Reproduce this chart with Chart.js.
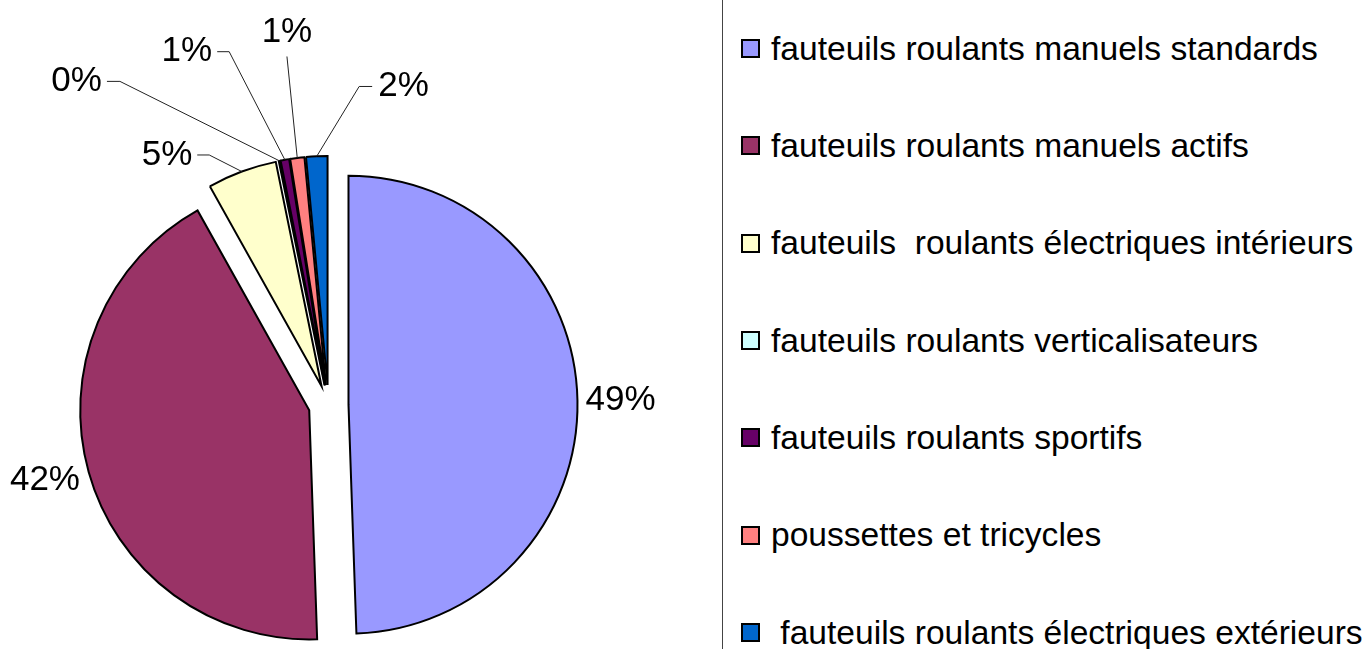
<!DOCTYPE html>
<html>
<head>
<meta charset="utf-8">
<script src="https://cdn.jsdelivr.net/npm/chart.js@4.4.1/dist/chart.umd.min.js"></script>
<style>
  body { margin: 0; background: #fff; width: 1370px; height: 649px; overflow: hidden; position: relative; font-family: "Liberation Sans", Arial, sans-serif; }
  #chartBox { position: absolute; left: 0; top: 0; width: 720px; height: 649px; }
  #legend { position: absolute; left: 722px; top: 0; width: 647px; height: 649px; border-left: 1px solid #444; }
  .item { height: 97.33px; display: flex; align-items: center; white-space: pre; font-size: 33.6px; color: #000; }
  .swatch { width: 15px; height: 15px; border: 2px solid #000; margin-left: 18px; margin-right: 11px; flex: none; }
</style>
</head>
<body>
<div id="chartBox"><canvas id="myChart" width="720" height="649"></canvas></div>
<div id="legend"></div>
<script>
// Data (percent of total)
const categories = [
    "fauteuils roulants manuels standards",
    "fauteuils roulants manuels actifs",
    "fauteuils  roulants électriques intérieurs",
    "fauteuils roulants verticalisateurs",
    "fauteuils roulants sportifs",
    "poussettes et tricycles",
    " fauteuils roulants électriques extérieurs"
];
const values = [49.4, 42.4, 4.9, 0.1, 0.6, 1.0, 1.5];
const colors = ["#9999FF", "#993366", "#FFFFCC", "#CCFFFF", "#660066", "#FF8080", "#0066CC"];

const pieRadius = 229;
const sliceShift = 20; // how far each slice is pulled out

// Build the legend on the right
const legendBox = document.getElementById('legend');
categories.forEach((name, i) => {
    const row = document.createElement('div');
    row.className = 'item';
    row.innerHTML = `<span class="swatch" style="background:${colors[i]}"></span><span></span>`;
    row.lastChild.textContent = name;
    legendBox.appendChild(row);
});

// Chart.js grows exploded arcs and trims their angle a bit;
// undo both so every slice keeps one radius and its full angle
const explodeFix = {
    id: 'explodeFix',
    afterDatasetUpdate(chart, args) {
        args.meta.data.forEach(arc => {
            const fix = 1 - Math.sin(Math.min(Math.PI, arc.circumference));
            const grow = sliceShift * fix;
            arc.outerRadius = pieRadius - grow;
            const trim = grow / Math.PI / pieRadius / 2;
            arc.startAngle -= trim;
            arc.endAngle += trim;
        });
    }
};

// Percent labels, with leader lines for the thin slices
const pieLabels = {
    id: 'pieLabels',
    afterDatasetsDraw(chart, args, opts) {
        const ctx = chart.ctx;
        const meta = chart.getDatasetMeta(0);
        const total = values.reduce((a, b) => a + b, 0);
        ctx.save();
        ctx.font = opts.font;
        ctx.fillStyle = '#000';
        ctx.strokeStyle = opts.lineColor;
        ctx.lineWidth = 1;
        meta.data.forEach((arc, i) => {
            const cx = arc.x, cy = arc.y;
            const mid = (arc.startAngle + arc.endAngle) / 2;
            const edge = sliceShift + pieRadius;
            const text = Math.round(values[i] / total * 100) + '%';
            const place = opts.placements[i];

            if (!place.elbow) {
                const r = edge + place.gap;
                ctx.textAlign = Math.cos(mid) >= 0 ? 'left' : 'right';
                ctx.textBaseline = 'middle';
                ctx.fillText(text, cx + Math.cos(mid) * r, cy + Math.sin(mid) * r + (place.dy || 0));
                return;
            }

            const sx = cx + Math.cos(mid) * edge;
            const sy = cy + Math.sin(mid) * edge;
            const ea = place.elbow.angle * Math.PI / 180;
            const ex = cx + Math.cos(ea) * place.elbow.dist;
            const ey = cy + Math.sin(ea) * place.elbow.dist;
            ctx.beginPath();
            ctx.moveTo(sx, sy);
            ctx.lineTo(ex, ey);
            let tx, ty;
            if (place.tail === 0) {
                tx = ex;
                ty = ey - place.gap;
                ctx.textAlign = 'center';
                ctx.textBaseline = 'alphabetic';
            } else {
                const endX = ex + place.tail;
                ctx.lineTo(endX, ey);
                tx = endX + Math.sign(place.tail) * place.gap;
                ty = ey;
                ctx.textAlign = place.tail < 0 ? 'right' : 'left';
                ctx.textBaseline = 'middle';
            }
            ctx.stroke();
            ctx.fillText(text, tx, ty);
        });
        ctx.restore();
    }
};

const ctx = document.getElementById('myChart').getContext('2d');
const myChart = new Chart(ctx, {
    type: 'pie',
    data: {
        labels: categories,
        datasets: [{
            data: values,
            backgroundColor: colors,
            borderColor: '#000',
            borderWidth: 2,
            borderJoinStyle: 'miter',
            offset: sliceShift * 4, // arc draw uses offset / 4
            hoverOffset: 0,
            clip: false
        }]
    },
    options: {
        responsive: false,
        animation: false,
        events: [],
        radius: pieRadius,
        layout: { padding: { top: 161, right: 63, left: 0, bottom: 0 } },
        plugins: {
            legend: { display: false },
            tooltip: { enabled: false },
            pieLabels: {
                font: '35px "Liberation Sans", Arial, sans-serif',
                lineColor: '#222',
                placements: [
                    { gap: 8 },
                    { gap: 9, dy: 6 },
                    { elbow: { angle: -115.5, dist: 277 }, tail: -12, gap: 5 },
                    { elbow: { angle: -122.8, dist: 385 }, tail: -13, gap: 5 },
                    { elbow: { angle: -105.7, dist: 367 }, tail: -12, gap: 5 },
                    { elbow: { angle: -96.8, dist: 351 }, tail: 0, gap: 14 },
                    { elbow: { angle: -84.5, dist: 320 }, tail: 13, gap: 6 }
                ]
            }
        }
    },
    plugins: [explodeFix, pieLabels]
});
</script>
</body>
</html>
